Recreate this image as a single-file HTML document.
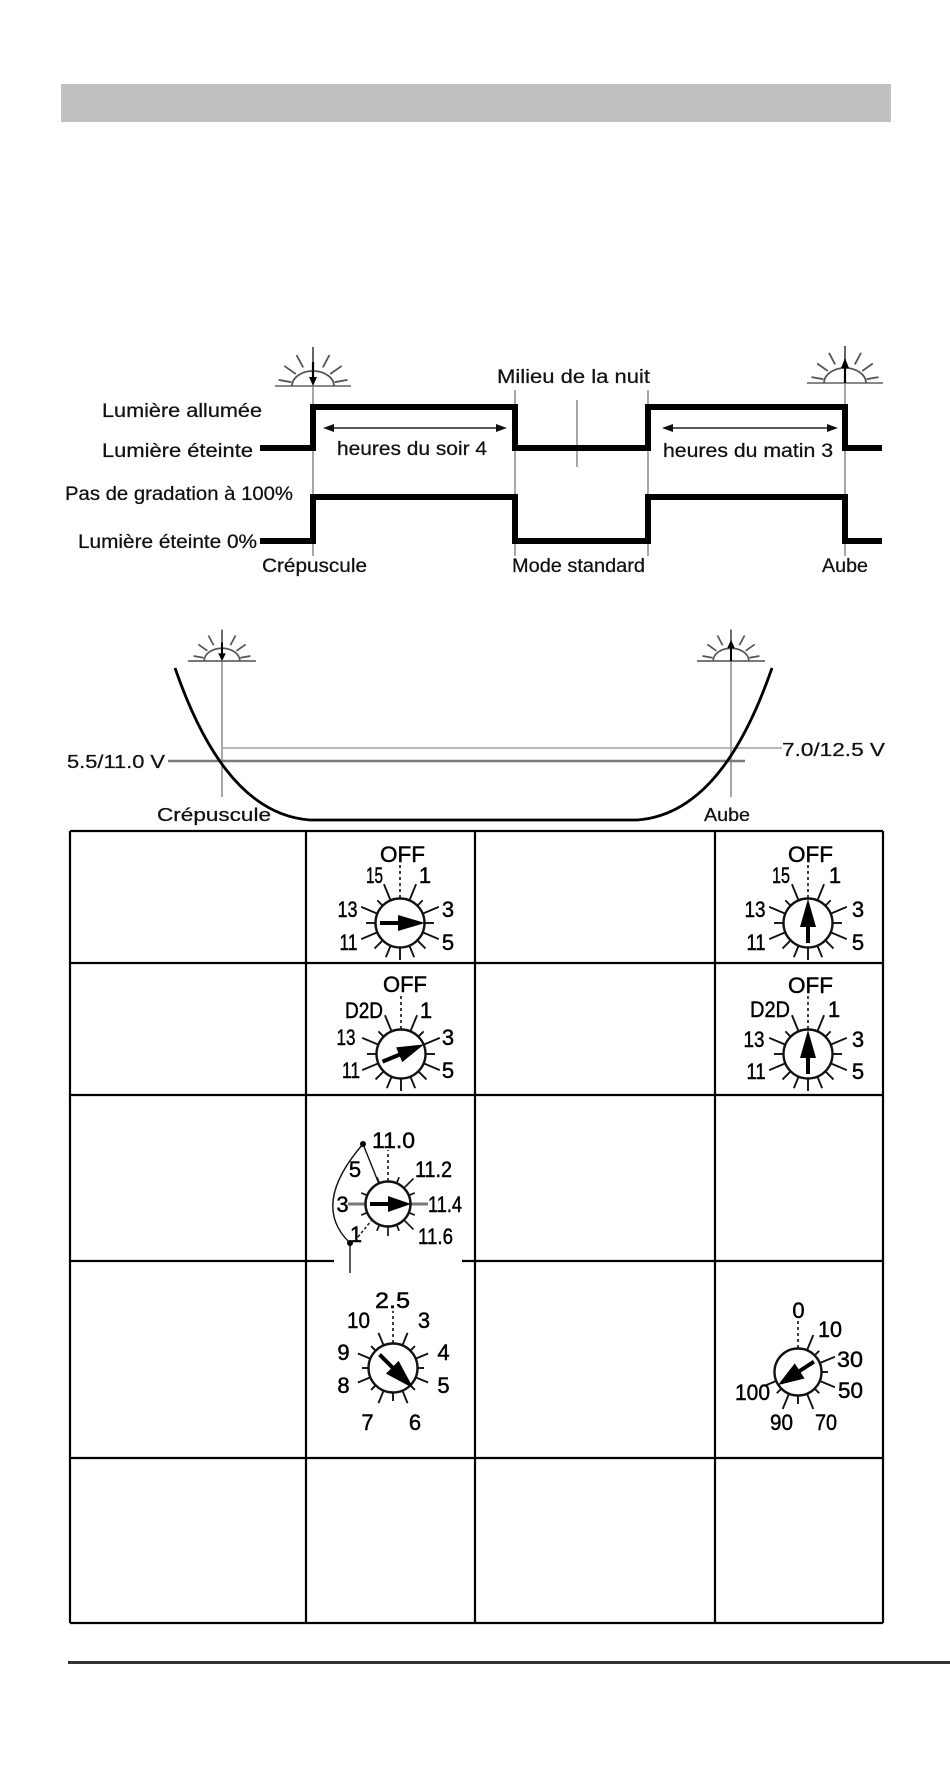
<!DOCTYPE html>
<html>
<head>
<meta charset="utf-8">
<style>
  html,body{margin:0;padding:0;background:#fff;}
  svg{display:block;}
  text{font-family:"Liberation Sans",Arial,sans-serif;fill:#111;}
  .lbl text{stroke:#111;stroke-width:0.25;}
  .dl text{fill:#000;stroke:#000;stroke-width:0.45;}
</style>
</head>
<body>
<svg width="950" height="1770" viewBox="0 0 950 1770" xmlns="http://www.w3.org/2000/svg">
  <rect x="0" y="0" width="950" height="1770" fill="#fff"/>
  <!-- grey header bar -->
  <rect x="61" y="84" width="830" height="38" fill="#c0c0c0"/>

  <!-- ========== TIMING DIAGRAM ========== -->
  <g stroke="#8a8a8a" stroke-width="1.5">
    <line x1="313" y1="386" x2="313" y2="556"/>
    <line x1="515" y1="390" x2="515" y2="556"/>
    <line x1="648" y1="390" x2="648" y2="556"/>
    <line x1="845" y1="383" x2="845" y2="556"/>
    <line x1="577" y1="400" x2="577" y2="467"/>
  </g>

  <!-- sun left (dusk, arrow down) -->
  <g transform="translate(313,386)">
    <g stroke="#555" stroke-width="1.8" fill="none">
      <line x1="-38" y1="0" x2="38" y2="0" stroke="#777"/>
      <path d="M-21,0 A21,15 0 0 1 21,0"/>
      <line x1="0" y1="-22" x2="0" y2="-39"/>
      <line x1="0" y1="-21" x2="0" y2="-35" transform="rotate(-28)"/>
      <line x1="0" y1="-21" x2="0" y2="-35" transform="rotate(28)"/>
      <line x1="0" y1="-21" x2="0" y2="-35" transform="rotate(-55)"/>
      <line x1="0" y1="-21" x2="0" y2="-35" transform="rotate(55)"/>
      <line x1="0" y1="-22" x2="0" y2="-35" transform="rotate(-80)"/>
      <line x1="0" y1="-22" x2="0" y2="-35" transform="rotate(80)"/>
    </g>
    <line x1="0" y1="-24" x2="0" y2="-6" stroke="#000" stroke-width="2.2"/>
    <polygon points="0,0 -4,-9 4,-9" fill="#000"/>
  </g>
  <!-- sun right (dawn, arrow up) -->
  <g transform="translate(845,383)">
    <g stroke="#555" stroke-width="1.8" fill="none">
      <line x1="-38" y1="0" x2="38" y2="0" stroke="#777"/>
      <path d="M-21,0 A21,15 0 0 1 21,0"/>
      <line x1="0" y1="-22" x2="0" y2="-37"/>
      <line x1="0" y1="-21" x2="0" y2="-34" transform="rotate(-28)"/>
      <line x1="0" y1="-21" x2="0" y2="-34" transform="rotate(28)"/>
      <line x1="0" y1="-21" x2="0" y2="-34" transform="rotate(-55)"/>
      <line x1="0" y1="-21" x2="0" y2="-34" transform="rotate(55)"/>
      <line x1="0" y1="-22" x2="0" y2="-34" transform="rotate(-80)"/>
      <line x1="0" y1="-22" x2="0" y2="-34" transform="rotate(80)"/>
    </g>
    <line x1="0" y1="0" x2="0" y2="-16" stroke="#000" stroke-width="2.2"/>
    <polygon points="0,-25 -4,-15 4,-15" fill="#000"/>
  </g>

  <!-- thick signal lines -->
  <g fill="none" stroke="#000" stroke-width="6" stroke-linejoin="miter" stroke-linecap="butt">
    <polyline points="260,448 313,448 313,407 515,407 515,448 648,448 648,407 845,407 845,448 882,448"/>
    <polyline points="260,541 313,541 313,497 515,497 515,541 648,541 648,497 845,497 845,541 882,541"/>
  </g>

  <!-- duration arrows -->
  <g stroke="#222" stroke-width="1.6">
    <line x1="330" y1="428" x2="500" y2="428"/>
    <line x1="669" y1="428" x2="831" y2="428"/>
  </g>
  <g fill="#111">
    <polygon points="323,428 334,424 334,432"/>
    <polygon points="507,428 496,424 496,432"/>
    <polygon points="662,428 673,424 673,432"/>
    <polygon points="838,428 827,424 827,432"/>
  </g>

  <!-- timing labels -->
  <g font-size="19" class="lbl">
    <text x="102" y="417" textLength="160" lengthAdjust="spacingAndGlyphs">Lumière allumée</text>
    <text x="102" y="457" textLength="151" lengthAdjust="spacingAndGlyphs">Lumière éteinte</text>
    <text x="65" y="500" textLength="228" lengthAdjust="spacingAndGlyphs">Pas de gradation à 100%</text>
    <text x="78" y="548" textLength="179" lengthAdjust="spacingAndGlyphs">Lumière éteinte 0%</text>
    <text x="262" y="572" textLength="105" lengthAdjust="spacingAndGlyphs">Crépuscule</text>
    <text x="497" y="383" textLength="153" lengthAdjust="spacingAndGlyphs">Milieu de la nuit</text>
    <text x="337" y="455" textLength="150" lengthAdjust="spacingAndGlyphs">heures du soir 4</text>
    <text x="663" y="457" textLength="170" lengthAdjust="spacingAndGlyphs">heures du matin 3</text>
    <text x="512" y="572" textLength="133" lengthAdjust="spacingAndGlyphs">Mode standard</text>
    <text x="822" y="572" textLength="46" lengthAdjust="spacingAndGlyphs">Aube</text>
  </g>

  <!-- ========== VOLTAGE CURVE DIAGRAM ========== -->
  <g stroke="#8a8a8a" stroke-width="1.5">
    <line x1="222" y1="661" x2="222" y2="797"/>
    <line x1="731" y1="661" x2="731" y2="797"/>
  </g>
  <line x1="222" y1="748" x2="782" y2="748" stroke="#a0a0a0" stroke-width="1.5"/>
  <line x1="168" y1="761" x2="745" y2="761" stroke="#7a7a7a" stroke-width="2.5"/>

  <!-- small suns -->
  <g transform="translate(222,661) scale(0.85)">
    <g stroke="#555" stroke-width="2" fill="none">
      <line x1="-40" y1="0" x2="40" y2="0" stroke="#666"/>
      <path d="M-21,0 A21,15 0 0 1 21,0"/>
      <line x1="0" y1="-22" x2="0" y2="-37"/>
      <line x1="0" y1="-21" x2="0" y2="-34" transform="rotate(-28)"/>
      <line x1="0" y1="-21" x2="0" y2="-34" transform="rotate(28)"/>
      <line x1="0" y1="-21" x2="0" y2="-34" transform="rotate(-55)"/>
      <line x1="0" y1="-21" x2="0" y2="-34" transform="rotate(55)"/>
      <line x1="0" y1="-22" x2="0" y2="-34" transform="rotate(-80)"/>
      <line x1="0" y1="-22" x2="0" y2="-34" transform="rotate(80)"/>
    </g>
    <line x1="0" y1="-22" x2="0" y2="-6" stroke="#000" stroke-width="2.4"/>
    <polygon points="0,0 -4.5,-9 4.5,-9" fill="#000"/>
  </g>
  <g transform="translate(731,661) scale(0.85)">
    <g stroke="#555" stroke-width="2" fill="none">
      <line x1="-40" y1="0" x2="40" y2="0" stroke="#666"/>
      <path d="M-21,0 A21,15 0 0 1 21,0"/>
      <line x1="0" y1="-22" x2="0" y2="-37"/>
      <line x1="0" y1="-21" x2="0" y2="-34" transform="rotate(-28)"/>
      <line x1="0" y1="-21" x2="0" y2="-34" transform="rotate(28)"/>
      <line x1="0" y1="-21" x2="0" y2="-34" transform="rotate(-55)"/>
      <line x1="0" y1="-21" x2="0" y2="-34" transform="rotate(55)"/>
      <line x1="0" y1="-22" x2="0" y2="-34" transform="rotate(-80)"/>
      <line x1="0" y1="-22" x2="0" y2="-34" transform="rotate(80)"/>
    </g>
    <line x1="0" y1="0" x2="0" y2="-16" stroke="#000" stroke-width="2.4"/>
    <polygon points="0,-25 -4.5,-15 4.5,-15" fill="#000"/>
  </g>

  <!-- U curve -->
  <path d="M175,668 C200,740 240,815 310,820 L637,820 C707,815 747,740 772,668" fill="none" stroke="#000" stroke-width="2.8"/>

  <g font-size="18" class="lbl">
    <text x="67" y="768" textLength="98" lengthAdjust="spacingAndGlyphs">5.5/11.0 V</text>
    <text x="782" y="756" textLength="103" lengthAdjust="spacingAndGlyphs">7.0/12.5 V</text>
    <text x="157" y="821" textLength="114" lengthAdjust="spacingAndGlyphs">Crépuscule</text>
    <text x="704" y="821" textLength="46" lengthAdjust="spacingAndGlyphs">Aube</text>
  </g>

  <!-- ========== TABLE ========== -->
  <g stroke="#000" stroke-width="2.2">
    <line x1="70" y1="831" x2="883" y2="831"/>
    <line x1="70" y1="963" x2="883" y2="963"/>
    <line x1="70" y1="1095" x2="883" y2="1095"/>
    <line x1="70" y1="1261" x2="883" y2="1261"/>
    <line x1="70" y1="1458" x2="883" y2="1458"/>
    <line x1="70" y1="1623" x2="883" y2="1623"/>
    <line x1="70" y1="831" x2="70" y2="1623"/>
    <line x1="306" y1="831" x2="306" y2="1623"/>
    <line x1="475" y1="831" x2="475" y2="1623"/>
    <line x1="715" y1="831" x2="715" y2="1623"/>
    <line x1="883" y1="831" x2="883" y2="1623"/>
  </g>
  <rect x="334" y="1258" width="128" height="7" fill="#fff"/>

  <!-- Dial 1 (row 1, col 2) -->
  <g transform="translate(400,923)">
    <g stroke="#111" stroke-width="1.9">
      <line x1="0" y1="-24" x2="0" y2="-42" transform="rotate(22.5)"/>
      <line x1="0" y1="-24" x2="0" y2="-32" transform="rotate(45)"/>
      <line x1="0" y1="-24" x2="0" y2="-42" transform="rotate(67.5)"/>
      <line x1="0" y1="-24" x2="0" y2="-34" transform="rotate(90)"/>
      <line x1="0" y1="-24" x2="0" y2="-42" transform="rotate(112.5)"/>
      <line x1="0" y1="-24" x2="0" y2="-36" transform="rotate(135)"/>
      <line x1="0" y1="-24" x2="0" y2="-37" transform="rotate(157.5)"/>
      <line x1="0" y1="-24" x2="0" y2="-37" transform="rotate(180)"/>
      <line x1="0" y1="-24" x2="0" y2="-37" transform="rotate(202.5)"/>
      <line x1="0" y1="-24" x2="0" y2="-36" transform="rotate(225)"/>
      <line x1="0" y1="-24" x2="0" y2="-42" transform="rotate(247.5)"/>
      <line x1="0" y1="-24" x2="0" y2="-34" transform="rotate(270)"/>
      <line x1="0" y1="-24" x2="0" y2="-42" transform="rotate(292.5)"/>
      <line x1="0" y1="-24" x2="0" y2="-32" transform="rotate(315)"/>
      <line x1="0" y1="-24" x2="0" y2="-42" transform="rotate(337.5)"/>
      <line x1="0" y1="-25" x2="0" y2="-58" stroke-dasharray="3,3" stroke-width="1.6"/>
    </g>
    <circle cx="0" cy="0" r="24.5" fill="#fff" stroke="#111" stroke-width="2.4"/>
    <g transform="rotate(90)">
      <line x1="0" y1="20" x2="0" y2="0" stroke="#000" stroke-width="4"/>
      <polygon points="0,-25 -8,2 8,2" fill="#000"/>
    </g>
    <g font-size="22" text-anchor="middle" class="dl">
      <text x="2.5" y="-61" textLength="45" lengthAdjust="spacingAndGlyphs">OFF</text>
      <text x="-25.5" y="-40" textLength="17" lengthAdjust="spacingAndGlyphs">15</text>
      <text x="25" y="-40">1</text>
      <text x="-52.5" y="-6" textLength="20" lengthAdjust="spacingAndGlyphs">13</text>
      <text x="48" y="-6">3</text>
      <text x="-51.5" y="27" textLength="18" lengthAdjust="spacingAndGlyphs">11</text>
      <text x="48" y="27">5</text>
    </g>
  </g>

  <!-- Dial 1b (row 1, col 4) -->
  <g transform="translate(808,923)">
    <g stroke="#111" stroke-width="1.9">
      <line x1="0" y1="-24" x2="0" y2="-42" transform="rotate(22.5)"/>
      <line x1="0" y1="-24" x2="0" y2="-32" transform="rotate(45)"/>
      <line x1="0" y1="-24" x2="0" y2="-42" transform="rotate(67.5)"/>
      <line x1="0" y1="-24" x2="0" y2="-34" transform="rotate(90)"/>
      <line x1="0" y1="-24" x2="0" y2="-42" transform="rotate(112.5)"/>
      <line x1="0" y1="-24" x2="0" y2="-36" transform="rotate(135)"/>
      <line x1="0" y1="-24" x2="0" y2="-37" transform="rotate(157.5)"/>
      <line x1="0" y1="-24" x2="0" y2="-37" transform="rotate(180)"/>
      <line x1="0" y1="-24" x2="0" y2="-37" transform="rotate(202.5)"/>
      <line x1="0" y1="-24" x2="0" y2="-36" transform="rotate(225)"/>
      <line x1="0" y1="-24" x2="0" y2="-42" transform="rotate(247.5)"/>
      <line x1="0" y1="-24" x2="0" y2="-34" transform="rotate(270)"/>
      <line x1="0" y1="-24" x2="0" y2="-42" transform="rotate(292.5)"/>
      <line x1="0" y1="-24" x2="0" y2="-32" transform="rotate(315)"/>
      <line x1="0" y1="-24" x2="0" y2="-42" transform="rotate(337.5)"/>
      <line x1="0" y1="-25" x2="0" y2="-58" stroke-dasharray="3,3" stroke-width="1.6"/>
    </g>
    <circle cx="0" cy="0" r="24.5" fill="#fff" stroke="#111" stroke-width="2.4"/>
    <g>
      <line x1="0" y1="20" x2="0" y2="0" stroke="#000" stroke-width="4"/>
      <polygon points="0,-24 -8,4 8,4" fill="#000"/>
    </g>
    <g font-size="22" text-anchor="middle" class="dl">
      <text x="2.5" y="-61" textLength="45" lengthAdjust="spacingAndGlyphs">OFF</text>
      <text x="-27" y="-40" textLength="18" lengthAdjust="spacingAndGlyphs">15</text>
      <text x="27" y="-40">1</text>
      <text x="-53" y="-6" textLength="21" lengthAdjust="spacingAndGlyphs">13</text>
      <text x="50" y="-6">3</text>
      <text x="-52" y="27" textLength="19" lengthAdjust="spacingAndGlyphs">11</text>
      <text x="50" y="27">5</text>
    </g>
  </g>

  <!-- Dial 2 (row 2, col 2) -->
  <g transform="translate(401,1054)">
    <g stroke="#111" stroke-width="1.9">
      <line x1="0" y1="-24" x2="0" y2="-42" transform="rotate(22.5)"/>
      <line x1="0" y1="-24" x2="0" y2="-32" transform="rotate(45)"/>
      <line x1="0" y1="-24" x2="0" y2="-42" transform="rotate(67.5)"/>
      <line x1="0" y1="-24" x2="0" y2="-34" transform="rotate(90)"/>
      <line x1="0" y1="-24" x2="0" y2="-42" transform="rotate(112.5)"/>
      <line x1="0" y1="-24" x2="0" y2="-36" transform="rotate(135)"/>
      <line x1="0" y1="-24" x2="0" y2="-37" transform="rotate(157.5)"/>
      <line x1="0" y1="-24" x2="0" y2="-37" transform="rotate(180)"/>
      <line x1="0" y1="-24" x2="0" y2="-37" transform="rotate(202.5)"/>
      <line x1="0" y1="-24" x2="0" y2="-36" transform="rotate(225)"/>
      <line x1="0" y1="-24" x2="0" y2="-42" transform="rotate(247.5)"/>
      <line x1="0" y1="-24" x2="0" y2="-34" transform="rotate(270)"/>
      <line x1="0" y1="-24" x2="0" y2="-42" transform="rotate(292.5)"/>
      <line x1="0" y1="-24" x2="0" y2="-32" transform="rotate(315)"/>
      <line x1="0" y1="-24" x2="0" y2="-42" transform="rotate(337.5)"/>
      <line x1="0" y1="-25" x2="0" y2="-58" stroke-dasharray="3,3" stroke-width="1.6"/>
    </g>
    <circle cx="0" cy="0" r="24.5" fill="#fff" stroke="#111" stroke-width="2.4"/>
    <g transform="rotate(67.5)">
      <line x1="0" y1="20" x2="0" y2="0" stroke="#000" stroke-width="4"/>
      <polygon points="0,-25 -8,2 8,2" fill="#000"/>
    </g>
    <g font-size="22" text-anchor="middle" class="dl">
      <text x="4" y="-62" textLength="44" lengthAdjust="spacingAndGlyphs">OFF</text>
      <text x="-37" y="-36" textLength="38" lengthAdjust="spacingAndGlyphs">D2D</text>
      <text x="25" y="-36">1</text>
      <text x="-55" y="-9" textLength="19" lengthAdjust="spacingAndGlyphs">13</text>
      <text x="47" y="-9">3</text>
      <text x="-50" y="24" textLength="18" lengthAdjust="spacingAndGlyphs">11</text>
      <text x="47" y="24">5</text>
    </g>
  </g>

  <!-- Dial 2b (row 2, col 4) -->
  <g transform="translate(808,1054)">
    <g stroke="#111" stroke-width="1.9">
      <line x1="0" y1="-24" x2="0" y2="-42" transform="rotate(22.5)"/>
      <line x1="0" y1="-24" x2="0" y2="-32" transform="rotate(45)"/>
      <line x1="0" y1="-24" x2="0" y2="-42" transform="rotate(67.5)"/>
      <line x1="0" y1="-24" x2="0" y2="-34" transform="rotate(90)"/>
      <line x1="0" y1="-24" x2="0" y2="-42" transform="rotate(112.5)"/>
      <line x1="0" y1="-24" x2="0" y2="-36" transform="rotate(135)"/>
      <line x1="0" y1="-24" x2="0" y2="-37" transform="rotate(157.5)"/>
      <line x1="0" y1="-24" x2="0" y2="-37" transform="rotate(180)"/>
      <line x1="0" y1="-24" x2="0" y2="-37" transform="rotate(202.5)"/>
      <line x1="0" y1="-24" x2="0" y2="-36" transform="rotate(225)"/>
      <line x1="0" y1="-24" x2="0" y2="-42" transform="rotate(247.5)"/>
      <line x1="0" y1="-24" x2="0" y2="-34" transform="rotate(270)"/>
      <line x1="0" y1="-24" x2="0" y2="-42" transform="rotate(292.5)"/>
      <line x1="0" y1="-24" x2="0" y2="-32" transform="rotate(315)"/>
      <line x1="0" y1="-24" x2="0" y2="-42" transform="rotate(337.5)"/>
      <line x1="0" y1="-25" x2="0" y2="-58" stroke-dasharray="3,3" stroke-width="1.6"/>
    </g>
    <circle cx="0" cy="0" r="24.5" fill="#fff" stroke="#111" stroke-width="2.4"/>
    <g>
      <line x1="0" y1="20" x2="0" y2="0" stroke="#000" stroke-width="4"/>
      <polygon points="0,-24 -8,4 8,4" fill="#000"/>
    </g>
    <g font-size="22" text-anchor="middle" class="dl">
      <text x="2.5" y="-61" textLength="45" lengthAdjust="spacingAndGlyphs">OFF</text>
      <text x="-38" y="-37" textLength="40" lengthAdjust="spacingAndGlyphs">D2D</text>
      <text x="26" y="-37">1</text>
      <text x="-54" y="-7" textLength="21" lengthAdjust="spacingAndGlyphs">13</text>
      <text x="50" y="-7">3</text>
      <text x="-52" y="25" textLength="19" lengthAdjust="spacingAndGlyphs">11</text>
      <text x="50" y="25">5</text>
    </g>
  </g>

  <!-- Dial 3 (row 3, col 2) voltage selector -->
  <g fill="none" stroke="#111" stroke-width="1.4">
    <path d="M363,1144 Q310,1205 350,1243"/>
    <line x1="363" y1="1144" x2="379" y2="1184"/>
    <line x1="350" y1="1243" x2="350" y2="1273"/>
    <line x1="358" y1="1237" x2="371" y2="1221" stroke-dasharray="3,2"/>
  </g>
  <circle cx="363" cy="1144" r="3" fill="#000"/>
  <circle cx="350" cy="1243" r="3" fill="#000"/>
  <g transform="translate(388,1204)">
    <line x1="-40" y1="0" x2="40" y2="0" stroke="#777" stroke-width="3"/>
    <g stroke="#111" stroke-width="1.7">
      <line x1="0" y1="-22" x2="0" y2="-29" transform="rotate(22.5)"/>
      <line x1="0" y1="-22" x2="0" y2="-36" transform="rotate(45)"/>
      <line x1="0" y1="-22" x2="0" y2="-29" transform="rotate(67.5)"/>
      <line x1="0" y1="-22" x2="0" y2="-29" transform="rotate(112.5)"/>
      <line x1="0" y1="-22" x2="0" y2="-36" transform="rotate(135)"/>
      <line x1="0" y1="-22" x2="0" y2="-29" transform="rotate(157.5)"/>
      <line x1="0" y1="-22" x2="0" y2="-32" transform="rotate(180)"/>
      <line x1="0" y1="-22" x2="0" y2="-29" transform="rotate(202.5)"/>
      <line x1="0" y1="-22" x2="0" y2="-29" transform="rotate(247.5)"/>
      <line x1="0" y1="-22" x2="0" y2="-29" transform="rotate(292.5)"/>
      <line x1="0" y1="-22" x2="0" y2="-29" transform="rotate(337.5)"/>
      <line x1="0" y1="-23" x2="0" y2="-54" stroke-dasharray="3,3" stroke-width="1.6"/>
    </g>
    <circle cx="0" cy="0" r="22.5" fill="#fff" stroke="#111" stroke-width="2.4"/>
    <g transform="rotate(90)">
      <line x1="0" y1="18" x2="0" y2="0" stroke="#000" stroke-width="4"/>
      <polygon points="0,-23 -8,0 8,0" fill="#000"/>
    </g>
  </g>
  <g font-size="22" text-anchor="middle" class="dl">
    <text x="393.5" y="1148" textLength="43" lengthAdjust="spacingAndGlyphs">11.0</text>
    <text x="433.5" y="1177" textLength="37" lengthAdjust="spacingAndGlyphs">11.2</text>
    <text x="445" y="1212" textLength="34" lengthAdjust="spacingAndGlyphs">11.4</text>
    <text x="435.5" y="1244" textLength="35" lengthAdjust="spacingAndGlyphs">11.6</text>
    <text x="355" y="1177">5</text>
    <text x="342.5" y="1212">3</text>
    <text x="356" y="1242">1</text>
  </g>

  <!-- Dial 4 (row 4, col 2) -->
  <g transform="translate(393,1368)">
    <g stroke="#111" stroke-width="1.9">
      <line x1="0" y1="-24" x2="0" y2="-38" transform="rotate(22.5)"/>
      <line x1="0" y1="-24" x2="0" y2="-31" transform="rotate(45)"/>
      <line x1="0" y1="-24" x2="0" y2="-38" transform="rotate(67.5)"/>
      <line x1="0" y1="-24" x2="0" y2="-31" transform="rotate(90)"/>
      <line x1="0" y1="-24" x2="0" y2="-38" transform="rotate(112.5)"/>
      <line x1="0" y1="-24" x2="0" y2="-31" transform="rotate(135)"/>
      <line x1="0" y1="-24" x2="0" y2="-38" transform="rotate(157.5)"/>
      <line x1="0" y1="-24" x2="0" y2="-33" transform="rotate(180)"/>
      <line x1="0" y1="-24" x2="0" y2="-38" transform="rotate(202.5)"/>
      <line x1="0" y1="-24" x2="0" y2="-31" transform="rotate(225)"/>
      <line x1="0" y1="-24" x2="0" y2="-38" transform="rotate(247.5)"/>
      <line x1="0" y1="-24" x2="0" y2="-31" transform="rotate(270)"/>
      <line x1="0" y1="-24" x2="0" y2="-38" transform="rotate(292.5)"/>
      <line x1="0" y1="-24" x2="0" y2="-31" transform="rotate(315)"/>
      <line x1="0" y1="-24" x2="0" y2="-38" transform="rotate(337.5)"/>
      <line x1="0" y1="-25" x2="0" y2="-57" stroke-dasharray="3,3" stroke-width="1.6"/>
    </g>
    <circle cx="0" cy="0" r="24.5" fill="#fff" stroke="#111" stroke-width="2.4"/>
    <g transform="rotate(135)">
      <line x1="0" y1="19" x2="0" y2="0" stroke="#000" stroke-width="4"/>
      <polygon points="0,-29 -9,1 9,1" fill="#000"/>
    </g>
  </g>
  <g font-size="22" text-anchor="middle" class="dl">
    <text x="392.5" y="1308" textLength="35" lengthAdjust="spacingAndGlyphs">2.5</text>
    <text x="358.5" y="1328" textLength="23" lengthAdjust="spacingAndGlyphs">10</text>
    <text x="424" y="1328">3</text>
    <text x="343.5" y="1360">9</text>
    <text x="443.5" y="1360">4</text>
    <text x="343.5" y="1393">8</text>
    <text x="443.5" y="1393">5</text>
    <text x="367.5" y="1430">7</text>
    <text x="415" y="1430">6</text>
  </g>

  <!-- Dial 5 (row 4, col 4) -->
  <g transform="translate(798,1372)">
    <g stroke="#111" stroke-width="1.9">
      <line x1="0" y1="-23" x2="0" y2="-40" transform="rotate(22.5)"/>
      <line x1="0" y1="-23" x2="0" y2="-30" transform="rotate(45)"/>
      <line x1="0" y1="-23" x2="0" y2="-40" transform="rotate(67.5)"/>
      <line x1="0" y1="-23" x2="0" y2="-30" transform="rotate(90)"/>
      <line x1="0" y1="-23" x2="0" y2="-40" transform="rotate(112.5)"/>
      <line x1="0" y1="-23" x2="0" y2="-30" transform="rotate(135)"/>
      <line x1="0" y1="-23" x2="0" y2="-40" transform="rotate(157.5)"/>
      <line x1="0" y1="-23" x2="0" y2="-32" transform="rotate(180)"/>
      <line x1="0" y1="-23" x2="0" y2="-40" transform="rotate(202.5)"/>
      <line x1="0" y1="-23" x2="0" y2="-30" transform="rotate(225)"/>
      <line x1="0" y1="-23" x2="0" y2="-36" transform="rotate(247.5)"/>
      <line x1="0" y1="-24" x2="0" y2="-52" stroke-dasharray="3,3" stroke-width="1.6"/>
    </g>
    <circle cx="0" cy="0" r="23.5" fill="#fff" stroke="#111" stroke-width="2.4"/>
    <g transform="rotate(237)">
      <line x1="0" y1="19" x2="0" y2="0" stroke="#000" stroke-width="4"/>
      <polygon points="0,-24 -9,2 9,2" fill="#000"/>
    </g>
  </g>
  <g font-size="22" text-anchor="middle" class="dl">
    <text x="798.5" y="1318">0</text>
    <text x="830" y="1337" textLength="24" lengthAdjust="spacingAndGlyphs">10</text>
    <text x="850" y="1367" textLength="26" lengthAdjust="spacingAndGlyphs">30</text>
    <text x="850.5" y="1398" textLength="25" lengthAdjust="spacingAndGlyphs">50</text>
    <text x="752.5" y="1400" textLength="35" lengthAdjust="spacingAndGlyphs">100</text>
    <text x="781.5" y="1430" textLength="23" lengthAdjust="spacingAndGlyphs">90</text>
    <text x="826" y="1430" textLength="22" lengthAdjust="spacingAndGlyphs">70</text>
  </g>

  <!-- bottom rule -->
  <rect x="68" y="1661" width="882" height="3" fill="#333"/>
</svg>
</body>
</html>
